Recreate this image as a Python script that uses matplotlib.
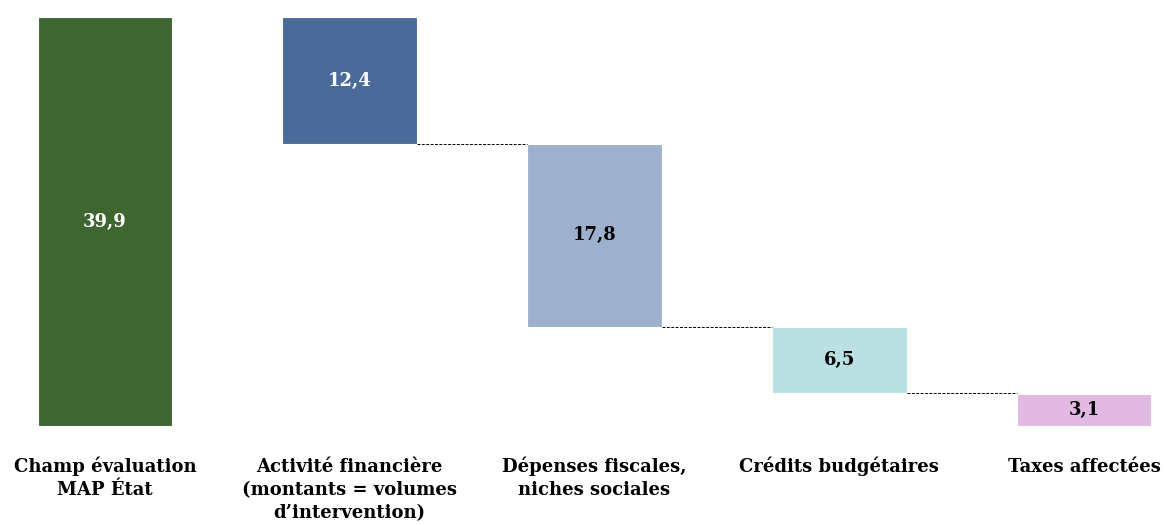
import matplotlib
matplotlib.use("Agg")
import matplotlib.pyplot as plt
import numpy as np

categories = ["Champ évaluation\nMAP État",
              "Activité financière\n(montants = volumes\nd’intervention)",
              "Dépenses fiscales,\nniches sociales",
              "Crédits budgétaires",
              "Taxes affectées"]
values = [39.9, 12.4, 17.8, 6.5, 3.1]
labels = ["39,9", "12,4", "17,8", "6,5", "3,1"]
colors = ["#3f6631", "#4a6b99", "#9db0ce", "#b9e0e2", "#e2b9e2"]
label_colors = ["white", "white", "black", "black", "black"]

plt.rcParams['font.family'] = ['DejaVu Serif']

fig = plt.figure(figsize=(11.65, 5.26), dpi=100)
ax = fig.add_axes([0, 100/526, 1, 426/526])

x = np.arange(len(values))
bottoms = []
level = values[0]
for i, v in enumerate(values):
    if i == 0 or i == len(values) - 1:
        bottoms.append(0.0)
    else:
        level -= v
        bottoms.append(level)

width = 0.55
ax.bar(x, values, bottom=bottoms, width=width, color=colors,
       edgecolor="white", linewidth=0.8)

for i in range(len(values)):
    ax.text(x[i], bottoms[i] + values[i] / 2, labels[i], ha="center", va="center",
            fontsize=13, fontweight="bold", color=label_colors[i])

# connectors
for i in range(1, len(values) - 1):
    y = bottoms[i]
    ax.plot([x[i] + width / 2, x[i + 1] - width / 2], [y, y], color="black",
            linestyle=(0, (3, 1.5)), linewidth=0.7)

px = 244.75
ax.set_xlim(-105 / px, (1165 - 105) / px)
ax.set_ylim(0, 39.9 + 17 / 10.25)
ax.set_xticks([])
ax.set_yticks([])
for s in ax.spines.values():
    s.set_visible(False)

trans = ax.get_xaxis_transform()
for i, c in enumerate(categories):
    for k, line in enumerate(c.split("\n")):
        ax.text(x[i], -(46 + 23 * k) / 426, line, transform=trans, ha="center",
                va="baseline", fontsize=13, fontweight="bold", clip_on=False)

fig.savefig("out.png", dpi=100)
